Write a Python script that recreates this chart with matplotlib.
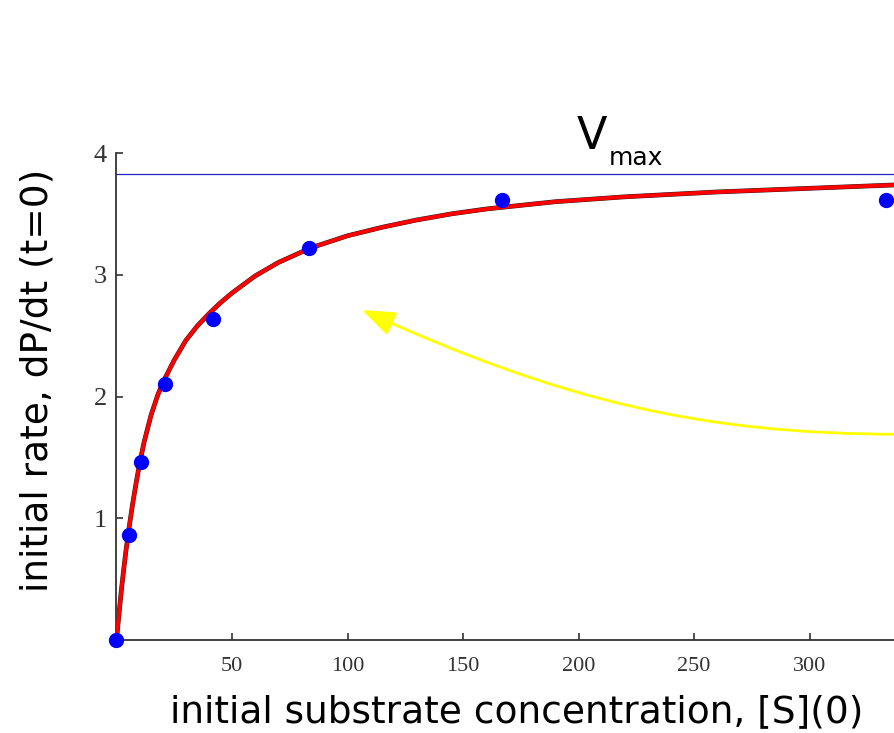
import matplotlib.pyplot as plt
from matplotlib.patches import FancyArrowPatch
from matplotlib.path import Path

# measured initial rates
conc = [0, 5.2, 10.4, 20.8, 41.7, 83.3, 166.7, 333.3]
rate = [0, 0.86, 1.46, 2.10, 2.64, 3.22, 3.61, 3.61]

# fitted curve
curve_s = [0, 1, 2, 3, 4, 5.5, 7, 8.5, 10, 12, 15, 18, 21, 25, 30, 35, 40,
           45, 50, 60, 70, 84, 100, 115, 130, 145, 160, 190, 220, 260, 300, 340]
curve_v = [0, 0.20, 0.39, 0.56, 0.72, 0.93, 1.12, 1.29, 1.45, 1.63, 1.85,
           2.02, 2.15, 2.30, 2.46, 2.58, 2.68, 2.77, 2.85, 2.99, 3.10, 3.22,
           3.32, 3.39, 3.45, 3.50, 3.54, 3.60, 3.64, 3.68, 3.71, 3.74]

vmax = 3.83
x_ticks = [50, 100, 150, 200, 250, 300]
y_ticks = [1, 2, 3, 4]

# yellow pointer: tail (off the right edge), two controls, head
arrow_pts = [(339.2, 1.69), (252.6, 1.69), (192.0, 1.97), (106.3, 2.71)]


def main():
    fig = plt.figure(figsize=(8.95, 7.33), dpi=100)
    ax = fig.add_axes([116.5 / 895, 93 / 733, 778.5 / 895, 487 / 733])
    ax.set_xlim(0, 337)
    ax.set_ylim(0, 4)

    ax.axhline(vmax, color='#2323c8', lw=0.9, zorder=1)
    ax.plot(curve_s, curve_v, color='#202020', lw=3.4, zorder=2,
            solid_capstyle='round', solid_joinstyle='round')
    ax.plot(curve_s, curve_v, color='red', lw=2.8, zorder=3,
            solid_capstyle='round', solid_joinstyle='round')
    ax.plot(conc, rate, 'o', color='blue', ms=10, zorder=4, clip_on=False)

    ax.text(206, 4.03, 'V', fontsize=32, ha='center', va='baseline')
    ax.text(213.2, 3.90, 'max', fontsize=18, ha='left', va='baseline')

    path = Path(arrow_pts, [Path.MOVETO, Path.CURVE4, Path.CURVE4, Path.CURVE4])
    arrow = FancyArrowPatch(path=path,
                            arrowstyle='-|>,head_length=2.0,head_width=0.75',
                            mutation_scale=10, color='yellow', lw=2.0,
                            clip_on=False, zorder=5)
    ax.add_patch(arrow)

    for s in ['top', 'right']:
        ax.spines[s].set_visible(False)
    for s in ['left', 'bottom']:
        ax.spines[s].set_color('#333333')
        ax.spines[s].set_linewidth(1.3)

    ax.set_xticks(x_ticks)
    ax.set_yticks(y_ticks)
    ax.tick_params(direction='in', length=5, width=1.2, color='#333333')
    for lab in ax.get_xticklabels():
        lab.set_fontfamily('Liberation Serif')
        lab.set_fontsize(16)
        lab.set_color('#333333')
    for lab in ax.get_yticklabels():
        lab.set_fontfamily('Liberation Serif')
        lab.set_fontsize(19)
        lab.set_color('#333333')
    ax.tick_params(axis='x', pad=12)
    ax.tick_params(axis='y', pad=7)

    fig.text(517 / 895, 1 - 712 / 733, 'initial substrate concentration, [S](0)',
             fontsize=27, ha='center', va='center')
    fig.text(38 / 895, 1 - 380 / 733, 'initial rate, dP/dt (t=0)',
             fontsize=27, ha='center', va='center', rotation=90)

    fig.savefig('out.png', dpi=100)


if __name__ == "__main__":
    main()
